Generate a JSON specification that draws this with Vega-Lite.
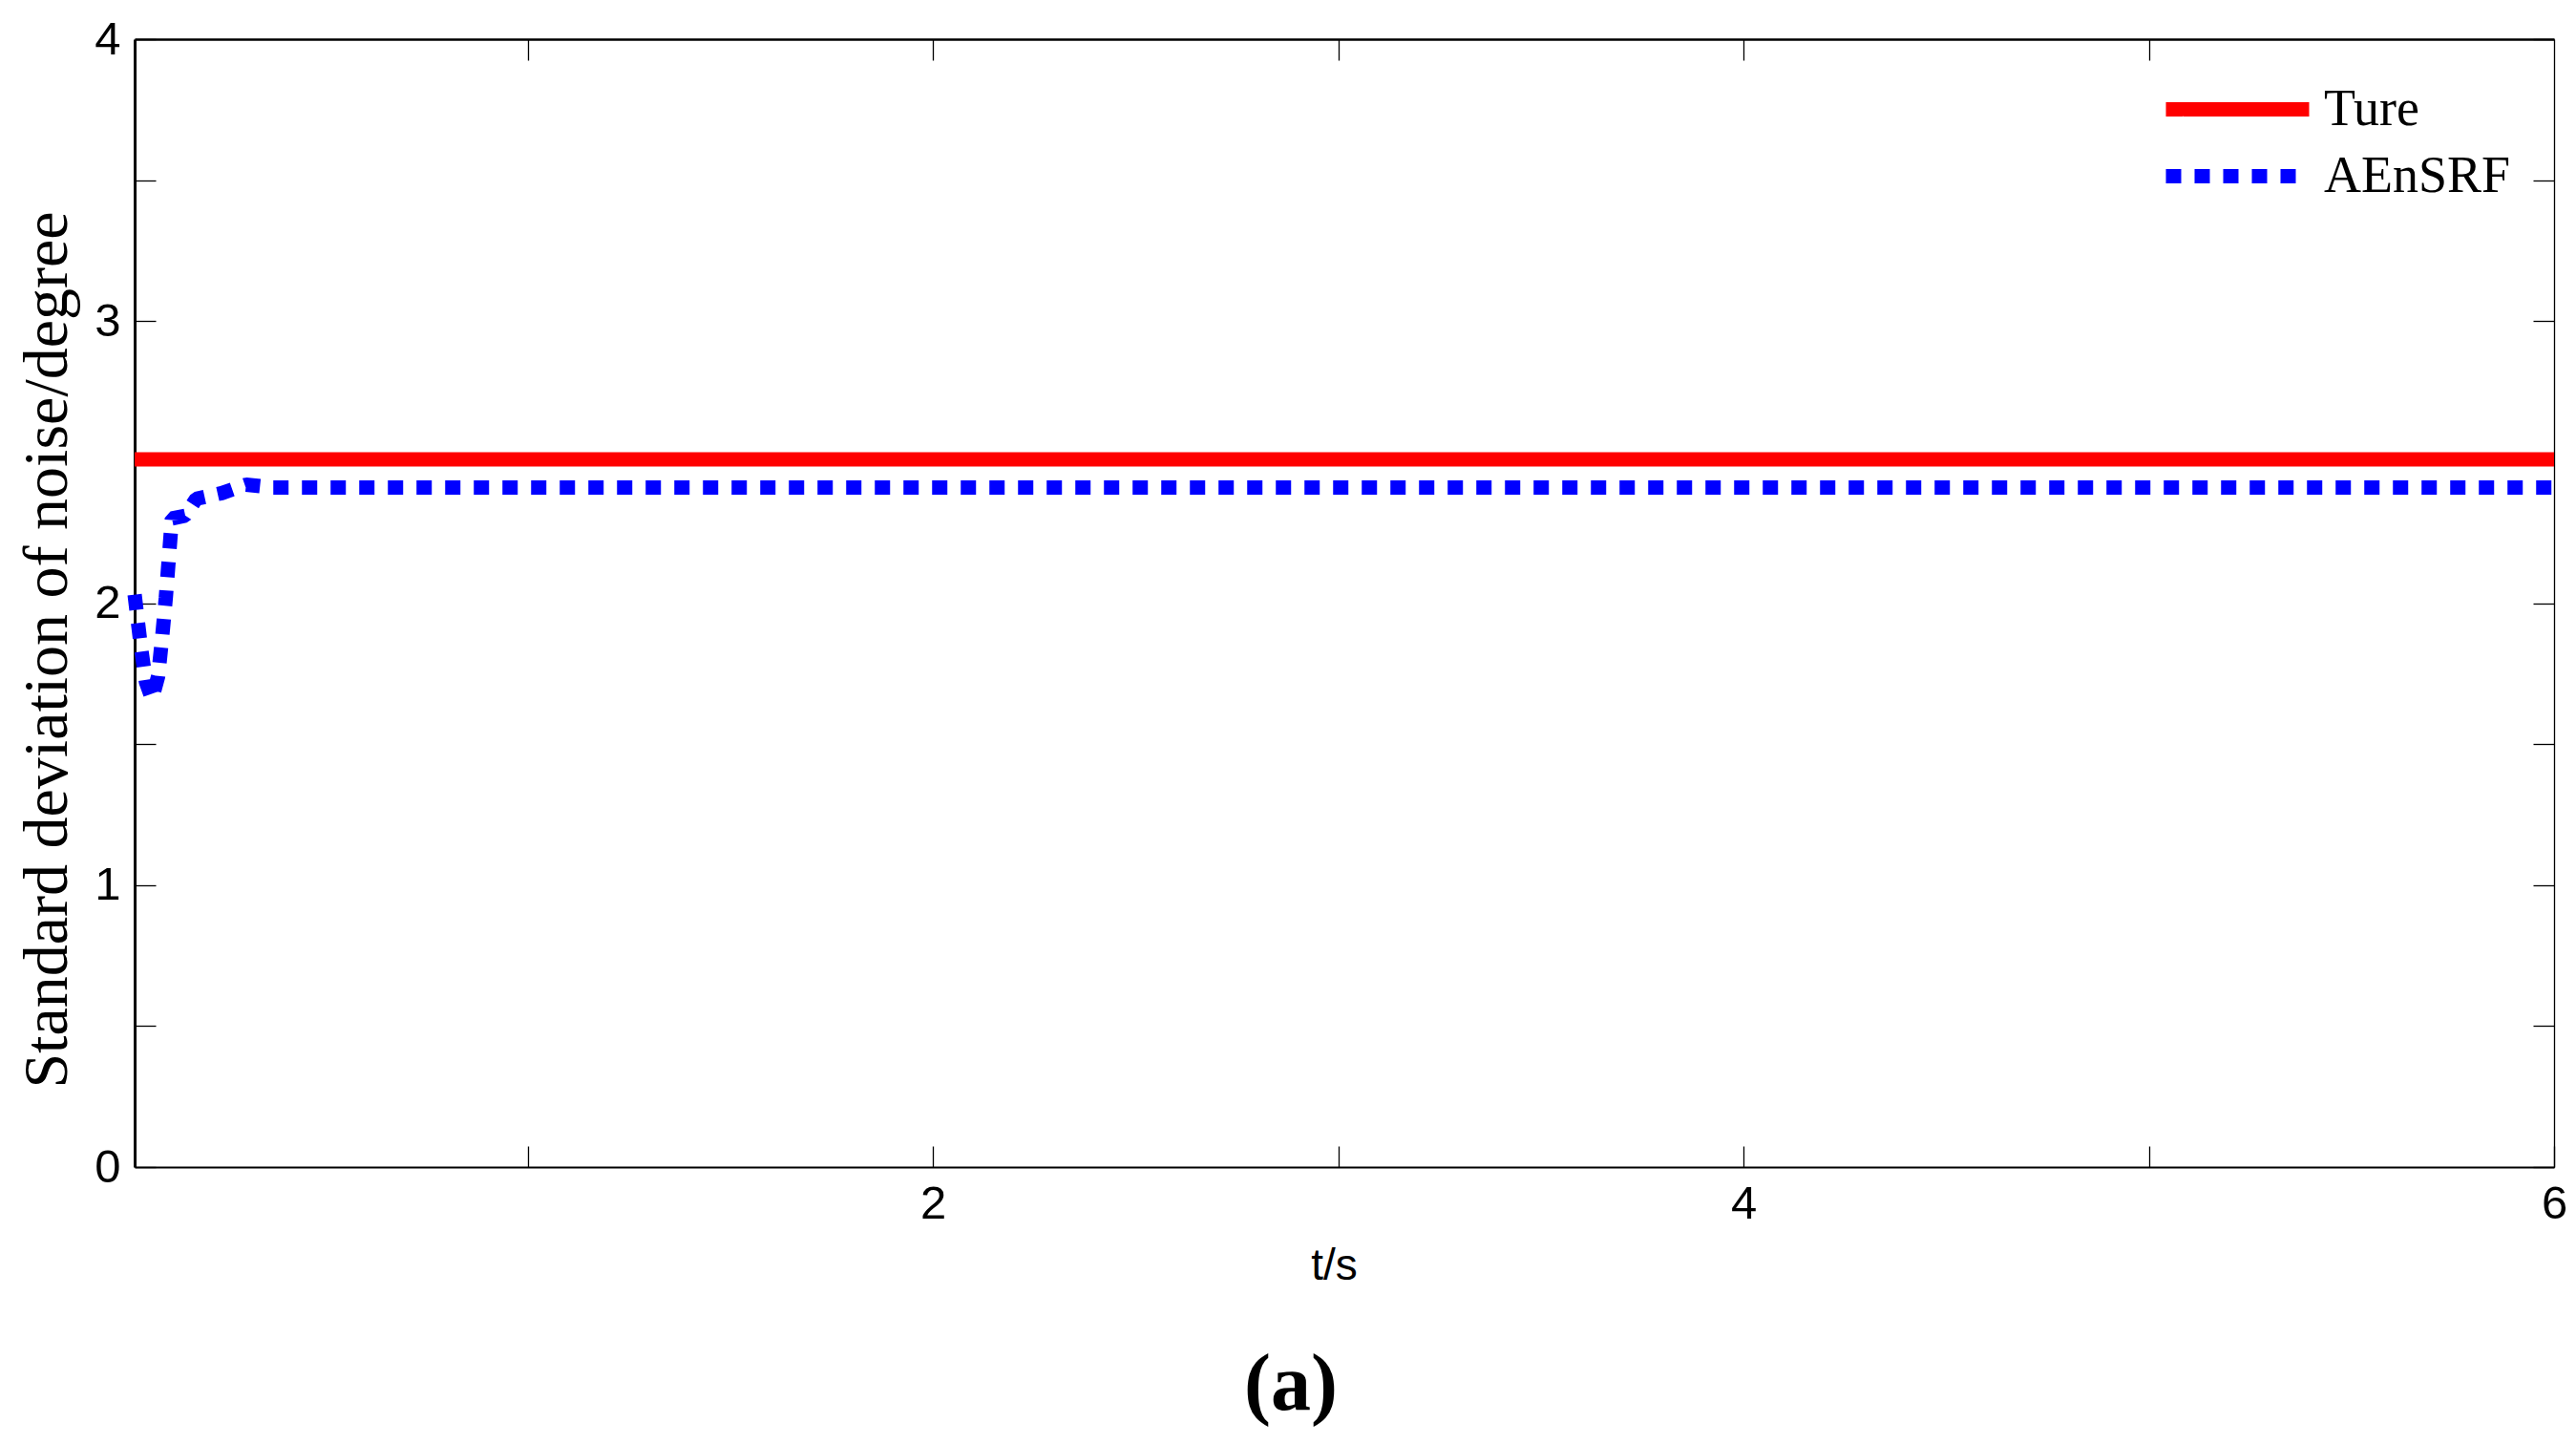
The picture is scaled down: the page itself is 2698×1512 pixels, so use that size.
{
  "$schema": "https://vega.github.io/schema/vega-lite/v6.json",
  "width": 2534,
  "height": 1181,
  "autosize": {"type": "none"},
  "padding": {"left": 141, "top": 41, "right": 23, "bottom": 290},
  "background": "white",
  "config": {
    "view": {"stroke": null},
    "axis": {
      "grid": false,
      "domainColor": "black",
      "tickColor": "black",
      "labelColor": "black",
      "titleColor": "black",
      "labelFont": "Liberation Sans",
      "labelFontSize": 49,
      "labelFlush": false,
      "labelOverlap": false,
      "tickSize": -22,
      "tickWidth": 1.3
    }
  },
  "title": {
    "text": "(a)",
    "orient": "bottom",
    "anchor": "middle",
    "frame": "group",
    "font": "Liberation Serif",
    "fontWeight": "bold",
    "fontSize": 84,
    "color": "black",
    "dx": -56,
    "offset": 62
  },
  "datasets": {
    "d": [
      {"t": 0.03, "v": 2.51, "series": "Ture"},
      {"t": 1, "v": 2.51, "series": "Ture"},
      {"t": 2, "v": 2.51, "series": "Ture"},
      {"t": 3, "v": 2.51, "series": "Ture"},
      {"t": 4, "v": 2.51, "series": "Ture"},
      {"t": 5, "v": 2.51, "series": "Ture"},
      {"t": 6, "v": 2.51, "series": "Ture"},
      {"t": 0.03, "v": 2.03, "series": "AEnSRF"},
      {"t": 0.045, "v": 1.85, "series": "AEnSRF"},
      {"t": 0.058, "v": 1.72, "series": "AEnSRF"},
      {"t": 0.073, "v": 1.66, "series": "AEnSRF"},
      {"t": 0.088, "v": 1.74, "series": "AEnSRF"},
      {"t": 0.098, "v": 1.88, "series": "AEnSRF"},
      {"t": 0.107, "v": 2.02, "series": "AEnSRF"},
      {"t": 0.115, "v": 2.17, "series": "AEnSRF"},
      {"t": 0.122, "v": 2.3, "series": "AEnSRF"},
      {"t": 0.155, "v": 2.31, "series": "AEnSRF"},
      {"t": 0.182, "v": 2.37, "series": "AEnSRF"},
      {"t": 0.245, "v": 2.39, "series": "AEnSRF"},
      {"t": 0.305, "v": 2.42, "series": "AEnSRF"},
      {"t": 0.37, "v": 2.41, "series": "AEnSRF"},
      {"t": 1, "v": 2.41, "series": "AEnSRF"},
      {"t": 2, "v": 2.41, "series": "AEnSRF"},
      {"t": 3, "v": 2.41, "series": "AEnSRF"},
      {"t": 4, "v": 2.41, "series": "AEnSRF"},
      {"t": 5, "v": 2.41, "series": "AEnSRF"},
      {"t": 6, "v": 2.41, "series": "AEnSRF"}
    ]
  },
  "layer": [
    {
      "data": {"name": "d"},
      "mark": {"type": "line", "strokeWidth": 15, "strokeCap": "butt", "strokeJoin": "bevel"},
      "encoding": {
        "x": {
          "field": "t",
          "type": "quantitative",
          "scale": {"domain": [0.03, 6], "nice": false, "zero": false},
          "axis": {
            "orient": "bottom",
            "values": [1, 2, 3, 4, 5, 6],
            "labelExpr": "datum.value % 2 == 0 ? format(datum.value, 'd') : ''",
            "labelPadding": 36,
            "domainWidth": 2.2,
            "title": "t/s",
            "titleFont": "Liberation Sans",
            "titleFontSize": 46,
            "titleFontWeight": "normal",
            "titleX": 1256,
            "titleY": 117,
            "titleAlign": "center",
            "titleBaseline": "alphabetic"
          }
        },
        "y": {
          "field": "v",
          "type": "quantitative",
          "scale": {"domain": [0, 4], "nice": false, "zero": false},
          "axis": {
            "orient": "left",
            "values": [0, 0.5, 1, 1.5, 2, 2.5, 3, 3.5, 4],
            "labelExpr": "datum.value % 1 == 0 ? format(datum.value, 'd') : ''",
            "labelPadding": 37,
            "domainWidth": 3,
            "title": "Standard deviation of noise/degree",
            "titleFont": "Liberation Serif",
            "titleFontSize": 66,
            "titleFontWeight": "normal",
            "titleAngle": -90,
            "titleX": -72,
            "titleY": 639,
            "titleAlign": "center",
            "titleBaseline": "alphabetic"
          }
        },
        "color": {
          "field": "series",
          "type": "nominal",
          "scale": {"domain": ["Ture", "AEnSRF"], "range": ["#ff0000", "#0000ff"]},
          "legend": {
            "orient": "none",
            "legendX": 2175.5,
            "legendY": 46.5,
            "title": null,
            "padding": 0,
            "symbolType": "M-5,0H5",
            "symbolSize": 900,
            "symbolStrokeWidth": 15,
            "labelFont": "Liberation Serif",
            "labelFontSize": 54,
            "labelColor": "black",
            "labelOffset": 63.5,
            "labelLimit": 0,
            "rowPadding": 10
          }
        },
        "strokeDash": {
          "field": "series",
          "type": "nominal",
          "scale": {"domain": ["Ture", "AEnSRF"], "range": [[1, 0], [16, 14]]}
        }
      }
    },
    {
      "data": {"name": "d"},
      "mark": {"type": "line", "opacity": 0},
      "encoding": {
        "x": {
          "field": "t",
          "type": "quantitative",
          "axis": {"orient": "top", "values": [1, 2, 3, 4, 5], "labels": false, "title": null, "domainWidth": 2.3}
        },
        "y": {
          "field": "v",
          "type": "quantitative",
          "axis": {"orient": "right", "values": [0, 0.5, 1, 1.5, 2, 2.5, 3, 3.5, 4], "labels": false, "title": null, "domainWidth": 1.3}
        }
      }
    }
  ],
  "resolve": {"axis": {"x": "independent", "y": "independent"}}
}
